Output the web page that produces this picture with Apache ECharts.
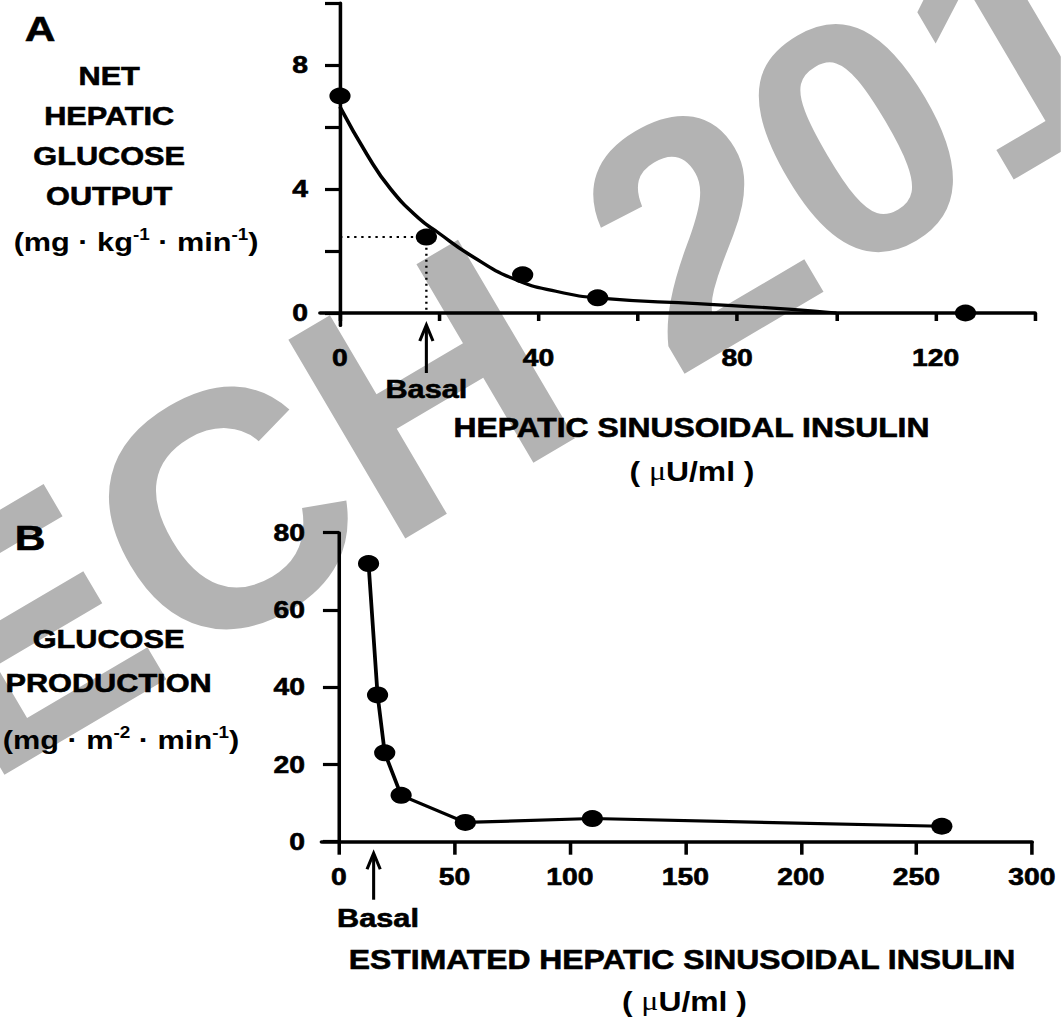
<!DOCTYPE html>
<html>
<head>
<meta charset="utf-8">
<script src="https://cdn.jsdelivr.net/npm/echarts@6/dist/echarts.min.js"></script>
<style>
  html, body { margin: 0; padding: 0; background: #fff; overflow: hidden; }
  /* the figure is set in a horizontally widened face, so the whole drawing is stretched */
  #chart { width: 899px; height: 1017px; transform: scaleX(1.18); transform-origin: 0 0; }
</style>
</head>
<body>
<div id="chart"></div>
<script>
// ---- Panel A: net hepatic glucose output vs hepatic sinusoidal insulin ----
const insulinA = [0, 17.4, 36.8, 51.9, 126];
const hgoA = [7.0, 2.45, 1.23, 0.49, 0];
// fitted curve through panel A
const curveInsulinA = [0, 5.5, 10.2, 15.9, 19.7, 26.4, 35, 43.5, 53, 72, 91, 100];
const curveHgoA = [6.65, 5.1, 4.0, 3.05, 2.6, 1.85, 1.1, 0.7, 0.47, 0.3, 0.12, 0];
const basalA = 17.4;
const basalHgoA = 2.45;
const xTicksA = [0, 20, 40, 60, 80, 100, 120, 140];
const xLabelsA = [0, 40, 80, 120];
const yTicksA = [0, 2, 4, 6, 8, 10];
const yLabelsA = [0, 4, 8];

// ---- Panel B: glucose production vs estimated hepatic sinusoidal insulin ----
const insulinB = [12.8, 16.7, 19.8, 26.9, 54.7, 109.7, 261];
const productionB = [72, 38, 23, 12, 5, 6, 4];
const basalB = 15;
const xTicksB = [0, 50, 100, 150, 200, 250, 300];
const yTicksB = [0, 20, 40, 60, 80];

const FONT = '"Liberation Sans", Arial, Helvetica, sans-serif';
const STRETCH = 1.18;
const zip = (xs, ys) => xs.map((x, i) => [x, ys[i]]);

const chart = echarts.init(document.getElementById('chart'), null, { renderer: 'svg' });

function valueAxis(grid, min, max, ticks, labels, tickLen, tickWidth, lineWidth, margin) {
  return {
    gridIndex: grid, type: 'value', min: min, max: max,
    axisLine: { show: true, onZero: true, lineStyle: { color: '#000', width: lineWidth } },
    axisTick: { show: true, customValues: ticks, length: tickLen, lineStyle: { color: '#000', width: tickWidth } },
    axisLabel: { show: true, customValues: labels, margin: margin, color: '#000',
                 fontSize: 24, fontWeight: 'bold', fontFamily: FONT,
                 textBorderColor: '#000', textBorderWidth: 0.6 },
    splitLine: { show: false }
  };
}

chart.setOption({
  animation: false,
  backgroundColor: '#fff',
  grid: [
    { left: 271.3, top: 3, width: 605.8, height: 322.4 },
    { left: 272.6, top: 532.7, width: 601.9, height: 309 }
  ],
  xAxis: [
    valueAxis(0, -4, 140, xTicksA, xLabelsA, 8, 3, 3.5, 20),
    valueAxis(1, -7.5, 300, xTicksB, xTicksB, 13, 3, 3.5, 23)
  ],
  yAxis: [
    valueAxis(0, -0.4, 10, yTicksA, yLabelsA, 12.7, 3.2, 3, 10.3),
    valueAxis(1, 0, 80, yTicksB, yTicksB, 13.6, 3.2, 3, 14.2)
  ],
  series: [
    {
      type: 'line', xAxisIndex: 0, yAxisIndex: 0, z: 3,
      data: zip(curveInsulinA, curveHgoA),
      smooth: 0.5, symbol: 'none', silent: true,
      lineStyle: { color: '#000', width: 3.2 }
    },
    {
      type: 'line', xAxisIndex: 0, yAxisIndex: 0, z: 2,
      data: [[0, basalHgoA], [basalA, basalHgoA], [basalA, 0]],
      symbol: 'none', silent: true,
      lineStyle: { color: '#000', width: 2, type: [2, 4] }
    },
    {
      type: 'scatter', xAxisIndex: 0, yAxisIndex: 0, z: 5, clip: false,
      data: zip(insulinA, hgoA), symbol: 'circle', symbolSize: [18, 17],
      itemStyle: { color: '#000', opacity: 1 }, silent: true
    },
    {
      type: 'line', xAxisIndex: 1, yAxisIndex: 1, z: 4,
      data: zip(insulinB, productionB), symbol: 'circle', symbolSize: [18, 17], showSymbol: true,
      lineStyle: { color: '#000', width: 3.2 }, itemStyle: { color: '#000', opacity: 1 }, silent: true
    }
  ]
});

function label(text, x, y, size, extra) {
  return {
    type: 'text', x: x, y: y, z: 50, silent: true,
    style: Object.assign({
      text: text, fill: '#000', font: 'bold ' + size + 'px ' + FONT,
      stroke: '#000', lineWidth: 0.6,
      align: 'center', verticalAlign: 'middle',
      textAlign: 'center', textVerticalAlign: 'middle'
    }, extra || {})
  };
}

function unitLabel(parts, x, y) {
  // parts: [text, styleName] pairs built into rich text
  const text = parts.map(p => '{' + p[1] + '|' + p[0] + '}').join('');
  return {
    type: 'text', x: x, y: y, z: 50, silent: true,
    style: {
      text: text, fill: '#000', align: 'center', verticalAlign: 'middle',
      textAlign: 'center', textVerticalAlign: 'middle',
      rich: {
        n: { fontSize: 26, fontWeight: 'bold', fontFamily: FONT, lineHeight: 30, fill: '#000' },
        s: { fontSize: 16, fontWeight: 'bold', fontFamily: FONT, lineHeight: 16, verticalAlign: 'top', fill: '#000' },
        h: { fontSize: 16, fontWeight: 'bold', fontFamily: FONT, lineHeight: 1, verticalAlign: 'top', fill: '#000' },
        m: { fontSize: 27, fontWeight: 'normal', fontFamily: '"Liberation Serif", "DejaVu Serif", serif', lineHeight: 30, fill: '#000' },
        t: { fontSize: 27, fontWeight: 'bold', fontFamily: FONT, lineHeight: 30, fill: '#000' }
      }
    }
  };
}

function arrow(px, py, tipOff, bottomOff, textDx, textOff) {
  const tip = py + tipOff;
  return [
    { type: 'polyline', z: 50, silent: true,
      shape: { points: [[px, tip + 2], [px, py + bottomOff]] },
      style: { stroke: '#000', lineWidth: 2.6, fill: null } },
    { type: 'polyline', z: 50, silent: true,
      shape: { points: [[px - 5.6, tip + 16], [px, tip], [px + 5.6, tip + 16]] },
      style: { stroke: '#000', lineWidth: 2.6, fill: null, lineJoin: 'miter' } },
    label('Basal', px + textDx, py + textOff, 26)
  ];
}

// Watermark behind the plots; its group undoes the page stretch so the
// lettering keeps its own proportions (coordinates here are page pixels).
function watermark() {
  const ang = 30.5 * Math.PI / 180;
  const size = 335;
  const lift = 0.3465 * size;
  const start = [-14.8, 786.2];
  return {
    type: 'group', x: 0, y: 0, scaleX: 1 / STRETCH, scaleY: 1, z: -100, silent: true,
    children: [{
      type: 'text', z: -100, silent: true, rotation: ang,
      x: start[0] - Math.sin(ang) * lift,
      y: start[1] - Math.cos(ang) * lift,
      style: { text: 'ECH 201', fill: '#b3b3b3', font: 'bold ' + size + 'px ' + FONT,
               align: 'left', verticalAlign: 'middle', textAlign: 'left', textVerticalAlign: 'middle' }
    }]
  };
}

const pA = chart.convertToPixel({ gridIndex: 0 }, [basalA, 0]);
const pB = chart.convertToPixel({ gridIndex: 1 }, [basalB, 0]);

const elements = [watermark()].concat([
  label('A', 33.9, 28, 36),
  label('NET', 92.5, 76, 26),
  label('HEPATIC', 92.5, 116, 26),
  label('GLUCOSE', 92.5, 156, 26),
  label('OUTPUT', 92.5, 196, 26),
  unitLabel([['(mg · kg', 'n'], ['-1', 's'], [' · min', 'n'], ['-1', 's'], [')', 'n']], 115.3, 241.5),
  label('HEPATIC SINUSOIDAL INSULIN', 586, 427, 27),
  unitLabel([['( ', 't'], ['\u03bc', 'm'], ['U/ml )', 't']], 586.4, 471),

  label('B', 25.4, 537.5, 36),
  label('GLUCOSE', 92, 639, 26),
  label('PRODUCTION', 92, 682.5, 26),
  unitLabel([['(mg · m', 'n'], ['-2', 'h'], [' · min', 'n'], ['-1', 's'], [')', 'n']], 102.5, 740),
  label('ESTIMATED HEPATIC SINUSOIDAL INSULIN', 578, 959, 27),
  unitLabel([['( ', 't'], ['\u03bc', 'm'], ['U/ml )', 't']], 580, 1001)
]).concat(arrow(pA[0], pA[1], 12, 60, 0, 76))
  .concat(arrow(pB[0], pB[1], 11.6, 58, 3.7, 76));

chart.setOption({ graphic: { elements: elements } });
</script>
</body>
</html>
